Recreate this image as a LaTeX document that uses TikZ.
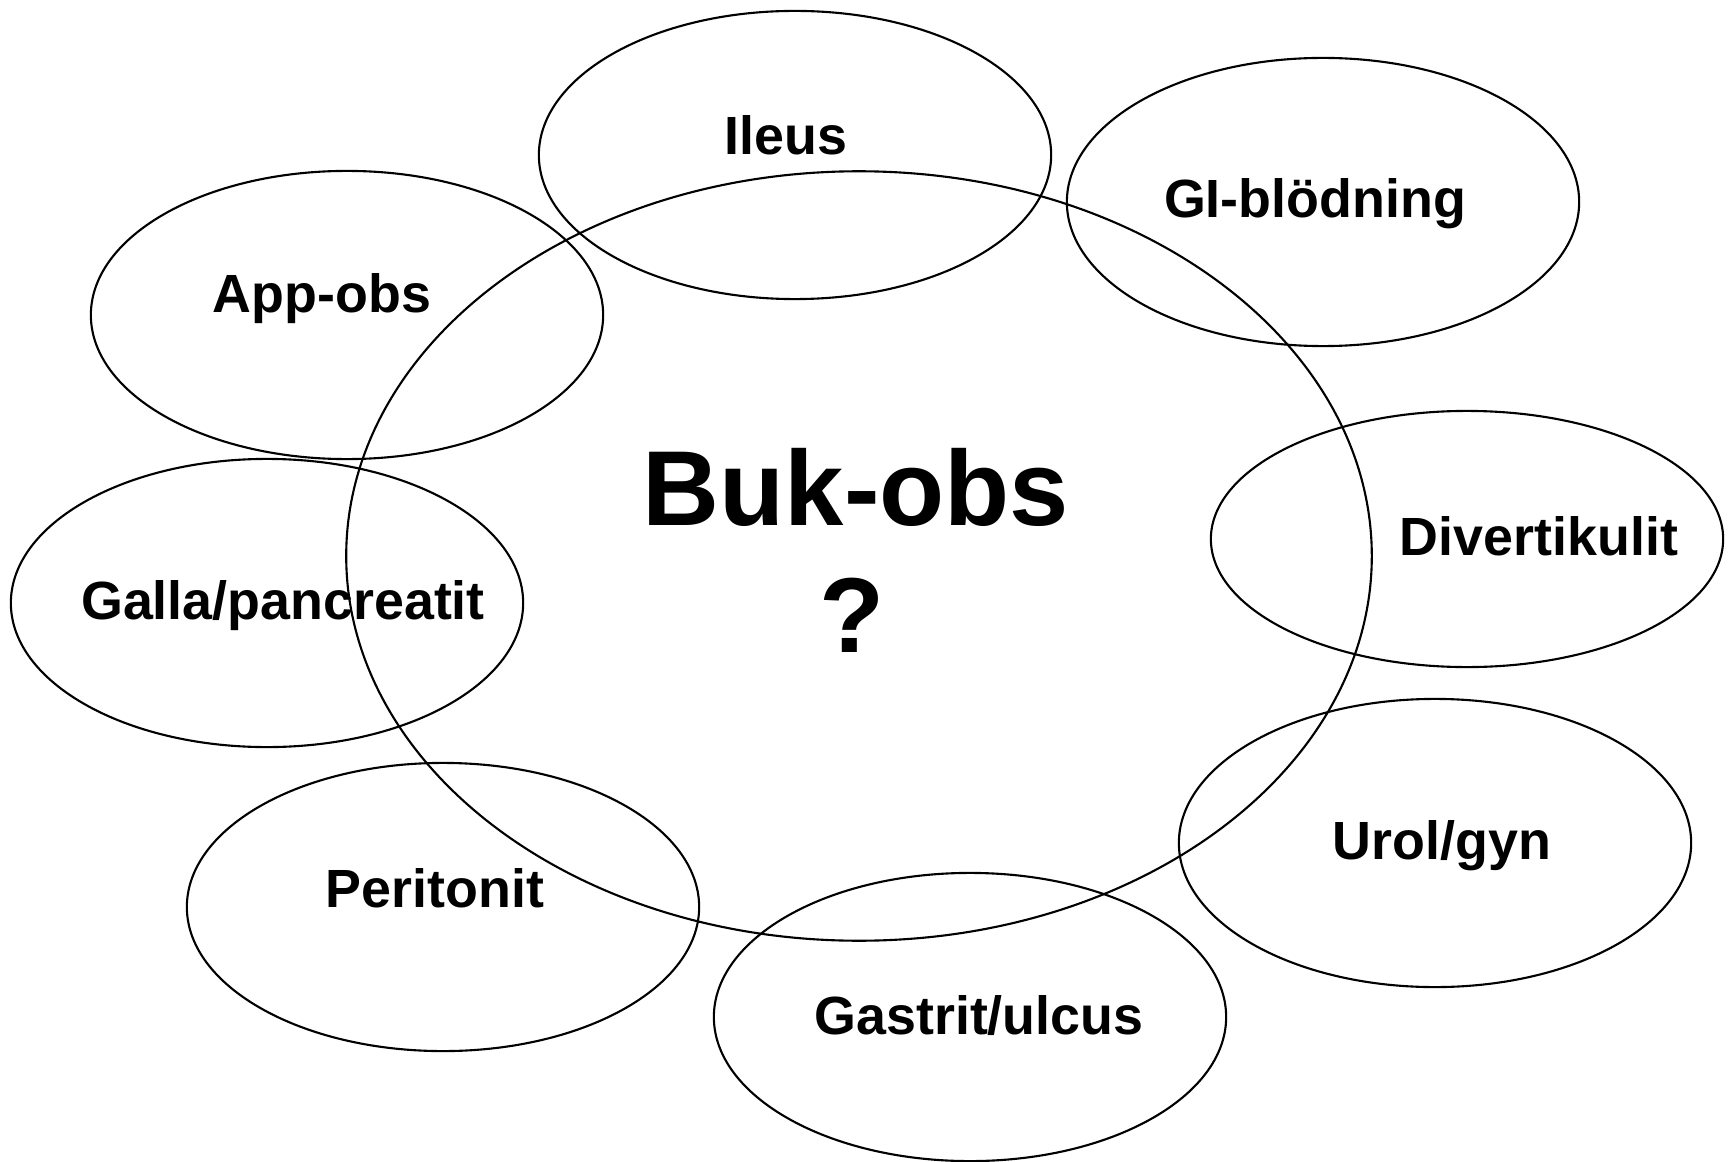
\documentclass[tikz,border=0pt]{standalone}
\usepackage{fontspec}
\setmainfont{Liberation Sans}
\usetikzlibrary{shapes.geometric}

\tikzset{
  oval/.style={draw, ellipse, inner sep=0pt, line width=0.6pt,
    minimum width=5.12cm, minimum height=2.88cm},
  lbl/.style={anchor=base, inner sep=0pt, font=\fontsize{15.3}{18}\selectfont\bfseries},
  bigtxt/.style={anchor=base, inner sep=0pt, font=\fontsize{30.3}{36}\selectfont\bfseries}
}

\begin{document}
\begin{tikzpicture}[x=0.01cm, y=-0.01cm]
  \useasboundingbox (0,0) rectangle (1734,1161);

  % the big one in the middle
  \node[oval, minimum width=10.25cm, minimum height=7.69cm] (buk) at (859,556) {};

  % centre x/y, height, name, label x/y, label
  \foreach \cx/\cy/\h/\name/\tx/\ty/\txt in {
      795/155/2.88/ileus/786/155/Ileus,
      1323/202/2.88/gi/1315/218/GI-blödning,
      347/315/2.88/app/322/313/App-obs,
      267/603/2.88/galla/283/619/{Galla/pancreatit},
      1467/539/2.56/div/1539/555/Divertikulit,
      1435/843/2.88/urol/1442/859/{Urol/gyn},
      443/907/2.88/perit/435/907/Peritonit,
      970/1017/2.88/gastrit/979/1034/{Gastrit/ulcus}}{
    \node[oval, minimum height=\h cm] (\name) at (\cx,\cy) {};
    \node[lbl] (\name-txt) at (\tx,\ty) {\txt};
  }

  \node[bigtxt] (bukobs) at (856,525) {Buk-obs};
  \node[bigtxt] (fraga) at (852,652) {?};
\end{tikzpicture}
\end{document}
